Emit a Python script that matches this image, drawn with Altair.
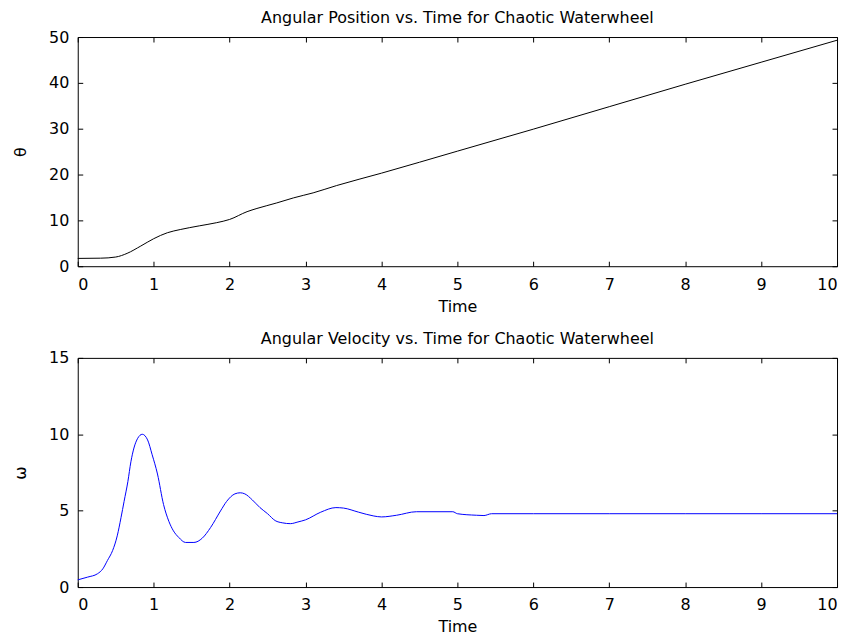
import altair as alt
import pandas as pd

# Angular position data (time, theta)
t_theta = [0, 0.3, 0.5, 0.65, 0.83, 1.0, 1.18, 1.35, 1.6, 1.83, 2.0, 2.23, 2.36, 2.62, 2.84, 3.1, 3.41,
           4, 5, 6, 7, 8, 9, 10]
theta = [1.7, 1.75, 2.0, 2.8, 4.4, 6.0, 7.3, 8.0, 8.8, 9.5, 10.2, 11.9, 12.6, 13.8, 14.9, 16.0, 17.6,
         20.3, 25.1, 29.9, 34.8, 39.7, 44.5, 49.3]

# Angular velocity data (time, omega)
t_omega = [0, 0.13, 0.26, 0.33, 0.39, 0.46, 0.52, 0.57, 0.61, 0.66, 0.70, 0.74, 0.79, 0.85, 0.92,
           0.98, 1.05, 1.13, 1.2, 1.26, 1.33, 1.42, 1.53, 1.64, 1.75, 1.88, 1.96, 2.07, 2.14, 2.2,
           2.3, 2.4, 2.5, 2.6, 2.7, 2.8, 2.9, 3.0, 3.2, 3.4, 3.5, 3.7, 3.9, 4.0, 4.2, 4.46, 4.94,
           5.0, 5.25, 5.35, 5.45, 6, 7, 8, 9, 10]
omega = [0.47, 0.65, 0.87, 1.19, 1.73, 2.4, 3.35, 4.55, 5.6, 6.9, 8.2, 9.1, 9.74, 10.0, 9.63,
         8.66, 7.4, 5.4, 4.3, 3.68, 3.25, 2.92, 2.92, 3.2, 3.9, 4.98, 5.6, 6.1, 6.17, 6.1,
         5.7, 5.2, 4.8, 4.35, 4.2, 4.15, 4.26, 4.4, 4.9, 5.2, 5.17, 4.9, 4.65, 4.59, 4.7, 4.93, 4.93,
         4.8, 4.7, 4.68, 4.8, 4.8, 4.8, 4.8, 4.8, 4.8]

x_ticks = [0, 1, 2, 3, 4, 5, 6, 7, 8, 9, 10]
theta_ticks = [0, 10, 20, 30, 40, 50]
omega_ticks = [0, 5, 10, 15]

FONT = "DejaVu Sans"


def panel(df, ycol, ydomain, yticks, color, title, ylabel):
    base = alt.Chart(df)
    common = dict(offset=-5, tickSize=5, domain=False, grid=False, tickColor="black",
                  tickWidth=1)
    xs = alt.Scale(domain=[0, 10], nice=False, zero=False)
    ys = alt.Scale(domain=ydomain, nice=False, zero=False)
    main = base.mark_line(color=color, strokeWidth=1, interpolate="monotone").encode(
        x=alt.X("t:Q", scale=xs,
                axis=alt.Axis(orient="bottom", values=x_ticks, title="Time", format="d",
                              labelPadding=10, titlePadding=6, **common)),
        y=alt.Y(f"{ycol}:Q", scale=ys,
                axis=alt.Axis(orient="left", values=yticks, title=ylabel, format="d",
                              labelPadding=9, titlePadding=20, **common)),
    )
    frame = base.mark_line(opacity=0).encode(
        x=alt.X("t:Q", scale=xs,
                axis=alt.Axis(orient="top", values=x_ticks, labels=False, title=None, **common)),
        y=alt.Y(f"{ycol}:Q", scale=ys,
                axis=alt.Axis(orient="right", values=yticks, labels=False, title=None, **common)),
    )
    return alt.layer(main, frame).resolve_axis(x="independent", y="independent").properties(
        width=762, height=230,
        title=alt.TitleParams(title, fontSize=16, font=FONT, fontWeight="normal",
                              color="black", offset=3, anchor="middle"),
    )


df_theta = pd.DataFrame({"t": t_theta, "theta": theta})
df_omega = pd.DataFrame({"t": t_omega, "omega": omega})

top = panel(df_theta, "theta", [0, 50], theta_ticks, "black",
            "Angular Position vs. Time for Chaotic Waterwheel", "θ")
bottom = panel(df_omega, "omega", [0, 15], omega_ticks, "#0000FF",
               "Angular Velocity vs. Time for Chaotic Waterwheel", "ω")

chart = alt.vconcat(top, bottom, spacing=92, bounds="flush").properties(
    padding={"left": 4, "top": 0, "right": 5, "bottom": 2},
    background="white",
).configure_view(stroke="black", strokeWidth=1).configure_axis(
    labelFont=FONT, labelFontSize=16, labelColor="black",
    titleFont=FONT, titleFontSize=16, titleColor="black", titleFontWeight="normal",
)

chart.save("out.html", embed_options={"renderer": "svg", "actions": False})
